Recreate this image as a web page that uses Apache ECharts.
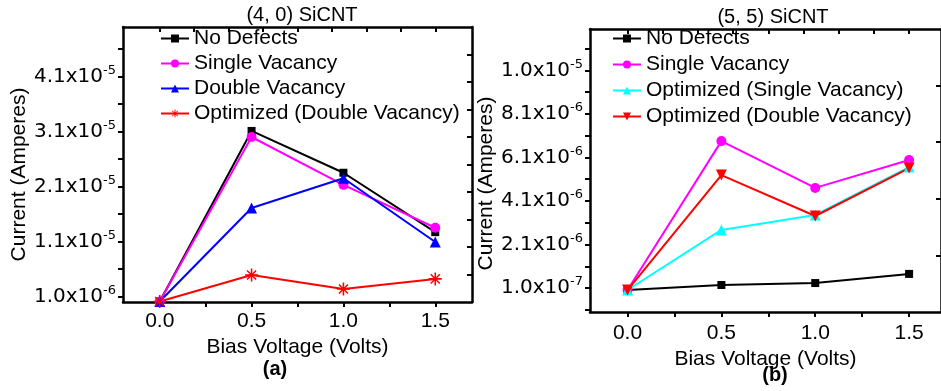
<!DOCTYPE html>
<html>
<head>
<meta charset="utf-8">
<title>SiCNT current vs bias voltage</title>
<script src="https://cdn.jsdelivr.net/npm/echarts@6/dist/echarts.min.js"></script>
<style>
  html, body { margin: 0; padding: 0; background: #fff; }
  #chart { width: 941px; height: 391px; }
</style>
</head>
<body>
<div id="chart"></div>
<script>
// bias voltage (Volts), same for every series
var voltage = [0.0, 0.5, 1.0, 1.5];

// (a) (4, 0) SiCNT, current in Amperes
var noDefectsA = [1e-7, 3.11e-5, 2.35e-5, 1.27e-5];
var singleVacA = [1e-7, 3.0e-5, 2.13e-5, 1.35e-5];
var doubleVacA = [1e-7, 1.71e-5, 2.25e-5, 1.09e-5];
var optDoubleA = [1e-7, 4.9e-6, 2.36e-6, 4.2e-6];

// (b) (5, 5) SiCNT, current in Amperes
var noDefectsB = [1e-8, 2.4e-7, 3.3e-7, 7.5e-7];
var singleVacB = [1e-8, 6.85e-6, 4.7e-6, 5.98e-6];
var optSingleB = [1e-8, 2.77e-6, 3.46e-6, 5.66e-6];
var optDoubleB = [1e-8, 5.29e-6, 3.41e-6, 5.61e-6];

// tick values
var xTicks = [0, 0.5, 1.0, 1.5];
var xMinor = [0.25, 0.75, 1.25];
var topTicks = [0, 0.1875, 0.375, 0.5625, 0.75, 0.9375, 1.125, 1.3125, 1.5];
var yTicksA = [1e-6, 1.1e-5, 2.1e-5, 3.1e-5, 4.1e-5];
var yMinorA = [6e-6, 1.6e-5, 2.6e-5, 3.6e-5, 4.6e-5];
var rightTicksA = [5e-6, 1e-5, 1.5e-5, 2e-5, 2.5e-5, 3e-5, 3.5e-5, 4e-5, 4.5e-5];
var yTicksB = [1e-7, 2.1e-6, 4.1e-6, 6.1e-6, 8.1e-6, 1.01e-5];
var yMinorB = [-9e-7, 1.1e-6, 3.1e-6, 5.1e-6, 7.1e-6, 9.1e-6, 1.11e-5];
var rightTicksB = [1.6e-6, 4.2e-6, 6.8e-6, 9.4e-6];

var font = 'Liberation Sans, Arial, sans-serif';
var starPath = 'path://M0 4.4L10 4.4L10 5.6L0 5.6Z M4.4 0L5.6 0L5.6 10L4.4 10Z M1.1 1.9L1.9 1.1L8.9 8.1L8.1 8.9Z M8.1 1.1L8.9 1.9L1.9 8.9L1.1 8.1Z';

function sci(v) {
  var p = v.toExponential(1).split('e');
  return '{m|' + p[0] + 'x10}{e|' + p[1] + '}';
}

var axisLine = { show: true, onZero: false, lineStyle: { color: '#000', width: 2.5 } };

function bottomAxis(gi, max, margin, gap) {
  return {
    type: 'value', gridIndex: gi, position: 'bottom', min: -0.2, max: max,
    axisLine: axisLine, splitLine: { show: false },
    axisTick: { inside: false, length: 5, customValues: xTicks.concat(xMinor), lineStyle: { width: 2 } },
    axisLabel: { customValues: xTicks, margin: margin, color: '#000', fontFamily: font, fontSize: 21,
      formatter: function (v) { return v.toFixed(1); } },
    name: 'Bias Voltage (Volts)', nameLocation: 'middle', nameGap: gap,
    nameTextStyle: { color: '#000', fontFamily: font, fontSize: 21 }
  };
}
function topAxis(gi, max) {
  return {
    type: 'value', gridIndex: gi, position: 'top', min: -0.2, max: max,
    axisLine: axisLine, splitLine: { show: false },
    axisTick: { inside: true, length: 5, customValues: topTicks, lineStyle: { width: 2 } },
    axisLabel: { show: false }
  };
}
function leftAxis(gi, min, max, ticks, minor, gap, pad) {
  return {
    type: 'value', gridIndex: gi, position: 'left', min: min, max: max,
    axisLine: axisLine, splitLine: { show: false },
    axisTick: { inside: false, length: 5, customValues: ticks.concat(minor), lineStyle: { width: 2 } },
    axisLabel: { customValues: ticks, margin: 7, color: '#000', formatter: sci,
      rich: {
        m: { fontFamily: 'DejaVu Sans, sans-serif', fontSize: 20, color: '#000' },
        e: { fontFamily: 'DejaVu Sans, sans-serif', fontSize: 13, color: '#000', padding: [0, 0, 12, 0] }
      } },
    name: 'Current (Amperes)', nameLocation: 'middle', nameGap: gap,
    nameTextStyle: { color: '#000', fontFamily: font, fontSize: 21, padding: pad }
  };
}
function rightAxis(gi, min, max, ticks) {
  return {
    type: 'value', gridIndex: gi, position: 'right', min: min, max: max,
    axisLine: axisLine, splitLine: { show: false },
    axisTick: { inside: true, length: 5, customValues: ticks, lineStyle: { width: 2 } },
    axisLabel: { show: false }
  };
}

function line(name, ys, xi, yi, color, symbol, size, rotate) {
  return {
    type: 'line', name: name, xAxisIndex: xi, yAxisIndex: yi,
    data: voltage.map(function (v, i) { return [v, ys[i]]; }),
    symbol: symbol, symbolSize: size, symbolRotate: rotate || 0,
    showAllSymbol: true, clip: false,
    lineStyle: { color: color, width: 2 },
    itemStyle: { color: color }
  };
}

var legendText = { color: '#000', fontFamily: font, fontSize: 21, lineHeight: 21 };

var chart = echarts.init(document.getElementById('chart'));
chart.setOption({
  animation: false,
  backgroundColor: '#fff',
  title: [
    { text: '(4, 0) SiCNT', left: 302, top: 5, textAlign: 'center', padding: 0,
      textStyle: { color: '#000', fontFamily: font, fontSize: 20, fontWeight: 'normal' } },
    { text: '(5, 5) SiCNT', left: 773, top: 7, textAlign: 'center', padding: 0,
      textStyle: { color: '#000', fontFamily: font, fontSize: 20, fontWeight: 'normal' } },
    { text: '(a)', left: 275, top: 359, textAlign: 'center', padding: 0,
      textStyle: { color: '#000', fontFamily: font, fontSize: 20, fontWeight: 'bold' } },
    { text: '(b)', left: 775, top: 365, textAlign: 'center', padding: 0,
      textStyle: { color: '#000', fontFamily: font, fontSize: 20, fontWeight: 'bold' } }
  ],
  legend: [
    { orient: 'vertical', left: 160, top: 28, padding: 0, itemGap: 4, itemWidth: 28, itemHeight: 10,
      textStyle: legendText, selectedMode: false,
      data: ['No Defects', 'Single Vacancy', 'Double Vacancy', 'Optimized (Double Vacancy)'] },
    { orient: 'vertical', left: 612, top: 28, padding: 0, itemGap: 5, itemWidth: 28, itemHeight: 10,
      textStyle: legendText, selectedMode: false,
      data: ['No Defects', 'Single Vacancy', 'Optimized (Single Vacancy)', 'Optimized (Double Vacancy) '] }
  ],
  grid: [
    { left: 123, top: 27, width: 349, height: 275, containLabel: false },
    { left: 590, top: 29, width: 353, height: 283, containLabel: false }
  ],
  xAxis: [bottomAxis(0, 1.7, 9, 30), topAxis(0, 1.7), bottomAxis(1, 1.67, 11, 33), topAxis(1, 1.67)],
  yAxis: [
    leftAxis(0, 0, 5e-5, yTicksA, yMinorA, 93, [0, 20, 0, 0]),
    rightAxis(0, 0, 5e-5, rightTicksA),
    leftAxis(1, -1e-6, 1.2e-5, yTicksB, yMinorB, 88, [0, 26, 0, 0]),
    rightAxis(1, -1e-6, 1.2e-5, rightTicksB)
  ],
  series: [
    line('No Defects', noDefectsA, 0, 0, '#000000', 'rect', 8),
    line('Single Vacancy', singleVacA, 0, 0, '#ff00ff', 'circle', 10),
    line('Double Vacancy', doubleVacA, 0, 0, '#0000ff', 'triangle', 11),
    line('Optimized (Double Vacancy)', optDoubleA, 0, 0, '#ff0000', starPath, 13),
    line('No Defects', noDefectsB, 2, 2, '#000000', 'rect', 8),
    line('Single Vacancy', singleVacB, 2, 2, '#ff00ff', 'circle', 10),
    line('Optimized (Single Vacancy)', optSingleB, 2, 2, '#00ffff', 'triangle', 11),
    line('Optimized (Double Vacancy) ', optDoubleB, 2, 2, '#ff0000', 'triangle', 11, 180)
  ]
});
</script>
</body>
</html>
